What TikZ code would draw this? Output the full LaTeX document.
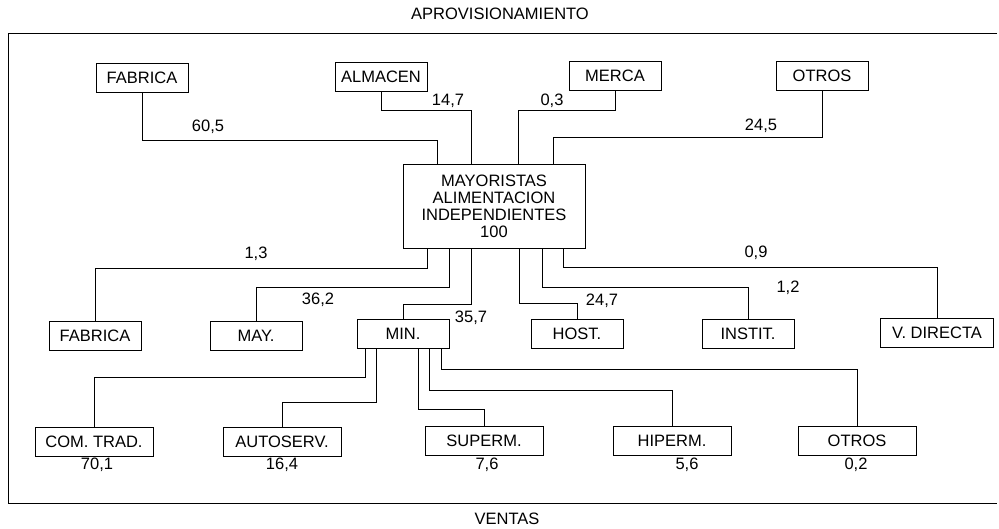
\documentclass[tikz,border=0pt]{standalone}
\usepackage{fontspec}
\setmainfont{Liberation Sans}

\begin{document}
\begin{tikzpicture}[x=1pt,y=-1pt,font=\fontsize{16.5}{17}\selectfont,
  box/.style={draw,line width=0.8pt,minimum width=92pt,minimum height=29pt,inner sep=2pt},
  wide/.style={box,minimum width=118pt},
  link/.style={line width=0.8pt},
  num/.style={inner sep=1pt}]
\useasboundingbox (0,0) rectangle (999,529);
\draw[link] (997,33) -- (8,33) -- (8,503) -- (997,503);
\node (aprov) at (500,14) {APROVISIONAMIENTO};
\node (ventas) at (507,519) {VENTAS};
% origen
\node[box] (fab1) at (142,78) {FABRICA};
\node[box] (alm1) at (381,77) {ALMACEN};
\node[box] (mer1) at (615,76) {MERCA};
\node[box] (otr1) at (822,76) {OTROS};
\node[draw,line width=0.8pt,minimum width=182pt,minimum height=84pt,align=center] (mayo) at (494,206)
  {MAYORISTAS\\ALIMENTACION\\INDEPENDIENTES\\100};
\draw[link] (fab1.south) -- (fab1.south |- 0,140) -| ([xshift=-57pt]mayo.north);
\draw[link] (alm1.south) -- (alm1.south |- 0,110) -| ([xshift=-23pt]mayo.north);
\draw[link] (mer1.south) -- (mer1.south |- 0,110) -| ([xshift=24pt]mayo.north);
\draw[link] (otr1.south) -- (otr1.south |- 0,137) -| ([xshift=59pt]mayo.north);
\node[num] (cfab1) at (208,127) {60,5};
\node[num] (calm1) at (448,101) {14,7};
\node[num] (cmer1) at (552,101) {0,3};
\node[num] (cotr1) at (761,126) {24,5};
% destino
\node[box] (fab2) at (95,336) {FABRICA};
\node[box] (may2) at (256,336) {MAY.};
\node[box] (min2) at (403,334) {MIN.};
\node[box] (hos2) at (577,334) {HOST.};
\node[box] (ins2) at (748,334) {INSTIT.};
\node[box,minimum width=113pt] (vdi2) at (937,333) {V. DIRECTA};
\draw[link] ([xshift=-67pt]mayo.south) |- (fab2.north |- 0,268) -- (fab2.north);
\draw[link] ([xshift=-45pt]mayo.south) |- (may2.north |- 0,287) -- (may2.north);
\draw[link] ([xshift=-23pt]mayo.south) |- (min2.north |- 0,304) -- (min2.north);
\draw[link] ([xshift=25pt]mayo.south) |- (hos2.north |- 0,303) -- (hos2.north);
\draw[link] ([xshift=48pt]mayo.south) |- (ins2.north |- 0,287) -- (ins2.north);
\draw[link] ([xshift=69pt]mayo.south) |- (vdi2.north |- 0,267) -- (vdi2.north);
\node[num] (cfab2) at (256,254) {1,3};
\node[num] (cmay2) at (318,300) {36,2};
\node[num] (cmin2) at (471,318) {35,7};
\node[num] (chos2) at (602,301) {24,7};
\node[num] (cins2) at (788,288) {1,2};
\node[num] (cvdi2) at (756,253) {0,9};
% minoristas
\node[wide] (com3) at (94,442) {COM. TRAD.};
\node[wide] (aut3) at (282,442) {AUTOSERV.};
\node[wide] (sup3) at (484,441) {SUPERM.};
\node[wide] (hip3) at (672,441) {HIPERM.};
\node[wide] (otr3) at (857,441) {OTROS};
\draw[link] ([xshift=-38pt]min2.south) |- (com3.north |- 0,377) -- (com3.north);
\draw[link] ([xshift=-27pt]min2.south) |- (aut3.north |- 0,402) -- (aut3.north);
\draw[link] ([xshift=15pt]min2.south) |- (sup3.north |- 0,409) -- (sup3.north);
\draw[link] ([xshift=26pt]min2.south) |- (hip3.north |- 0,390) -- (hip3.north);
\draw[link] ([xshift=38pt]min2.south) |- (otr3.north |- 0,369) -- (otr3.north);
\node[num] (ccom3) at (97,465) {70,1};
\node[num] (caut3) at (282,465) {16,4};
\node[num] (csup3) at (487,465) {7,6};
\node[num] (chip3) at (687,465) {5,6};
\node[num] (cotr3) at (856,465) {0,2};
\end{tikzpicture}
\end{document}
